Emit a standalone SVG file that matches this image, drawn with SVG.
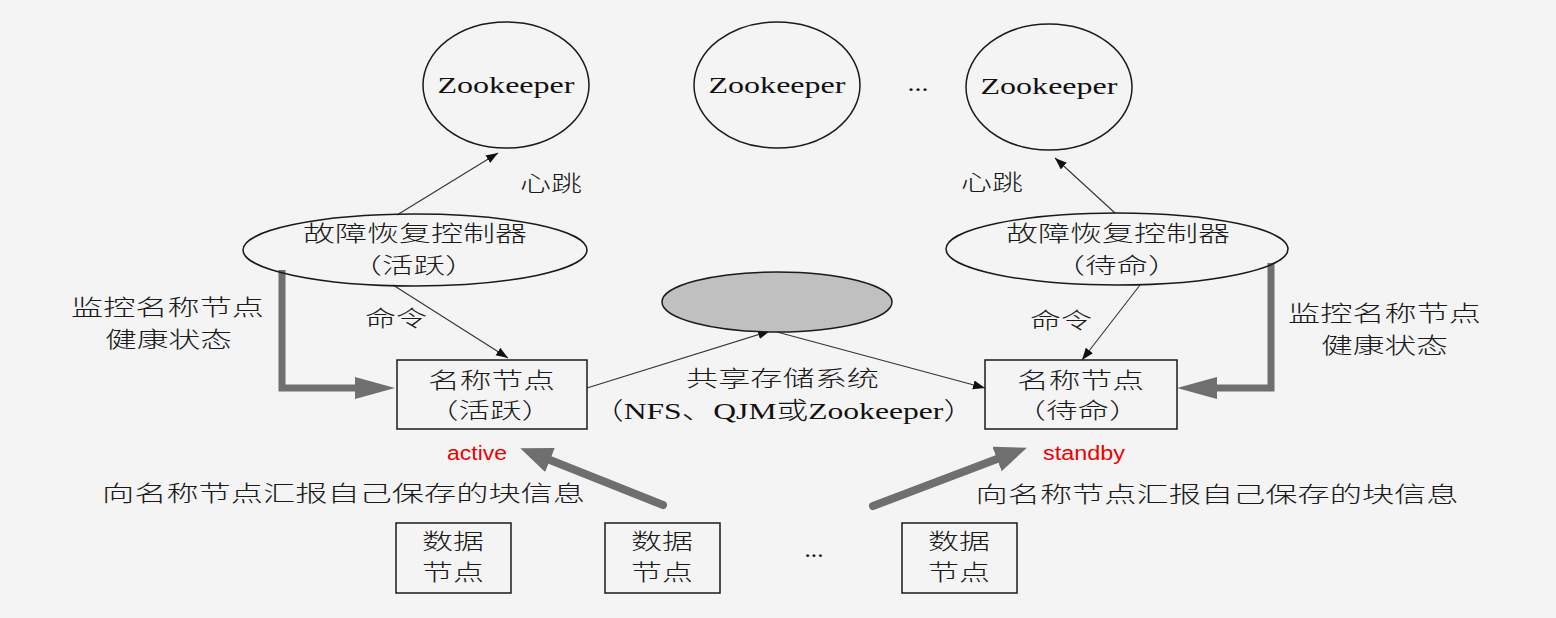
<svg xmlns="http://www.w3.org/2000/svg" width="1556" height="618" viewBox="0 0 1556 618">
<defs>
<style>
.bg{fill:#f4f4f4}
.node{fill:none;stroke:#1a1a1a;stroke-width:1.5}
.box{fill:none;stroke:#1a1a1a;stroke-width:1.5}
.gray{fill:#c0c0c0;stroke:#1a1a1a;stroke-width:1.5}
.thin{fill:none;stroke:#333;stroke-width:1.1}
.thick{fill:none;stroke:#6f6f6f;stroke-width:7}
.thickr{fill:none;stroke:#6f6f6f;stroke-width:8;stroke-linecap:round}
.cjk{font-family:"Noto Sans CJK SC",sans-serif;font-size:22px;font-weight:300;fill:#1a1a1a;text-anchor:middle}
.ser{font-family:"Liberation Serif","Noto Sans CJK SC",serif;font-size:24px;fill:#111;text-anchor:middle}
.lt{font-weight:300}
.red{font-family:"Liberation Sans",sans-serif;font-size:20px;fill:#ee0000;text-anchor:middle}
</style>
<marker id="ah" markerUnits="userSpaceOnUse" markerWidth="13" markerHeight="10" refX="12" refY="4.5" orient="auto"><path d="M0,0 L12,4.5 L0,9 z" fill="#111"/></marker>
<marker id="ahg" markerUnits="userSpaceOnUse" markerWidth="42" markerHeight="24" refX="0" refY="11" orient="auto"><path d="M0,0 L40,11 L0,22 z" fill="#6f6f6f"/></marker>
<marker id="ahd" markerUnits="userSpaceOnUse" markerWidth="34" markerHeight="28" refX="0" refY="13" orient="auto"><path d="M0,0 L32,13 L0,26 z" fill="#6f6f6f"/></marker>
</defs>
<rect class="bg" x="0" y="0" width="1556" height="618"/>

<g id="connectors">
<line class="thin" x1="397" y1="215" x2="498" y2="153" marker-end="url(#ah)"/>
<line class="thin" x1="1115" y1="213" x2="1055" y2="158" marker-end="url(#ah)"/>
<line class="thin" x1="393" y1="285" x2="508" y2="358" marker-end="url(#ah)"/>
<line class="thin" x1="1140" y1="285" x2="1082" y2="360" marker-end="url(#ah)"/>
<line class="thin" x1="587" y1="388" x2="770" y2="331" marker-end="url(#ah)"/>
<line class="thin" x1="777" y1="332" x2="985" y2="388" marker-end="url(#ah)"/>
<polyline class="thick" points="282,270 282,388 355,388" marker-end="url(#ahg)"/>
<polyline class="thick" points="1271,263 1271,388 1217,388" marker-end="url(#ahg)"/>
<line class="thickr" x1="663" y1="505" x2="550" y2="460" marker-end="url(#ahd)"/>
<line class="thickr" x1="873" y1="506" x2="997" y2="459" marker-end="url(#ahd)"/>
</g>

<g id="zk1"><ellipse class="node" cx="506" cy="85" rx="83" ry="63"/><text class="ser" x="506" y="93" textLength="137" lengthAdjust="spacingAndGlyphs">Zookeeper</text></g>
<g id="zk2"><ellipse class="node" cx="777" cy="85" rx="83" ry="63"/><text class="ser" x="777" y="93" textLength="137" lengthAdjust="spacingAndGlyphs">Zookeeper</text></g>
<g id="zk-dots"><text class="ser" x="918" y="91" textLength="21" lengthAdjust="spacingAndGlyphs">...</text></g>
<g id="zk3"><ellipse class="node" cx="1049" cy="87" rx="83" ry="63"/><text class="ser" x="1049" y="94" textLength="137" lengthAdjust="spacingAndGlyphs">Zookeeper</text></g>

<g id="hb-left"><text class="cjk" x="551" y="191" textLength="62" lengthAdjust="spacingAndGlyphs">心跳</text></g>
<g id="hb-right"><text class="cjk" x="992" y="190" textLength="62" lengthAdjust="spacingAndGlyphs">心跳</text></g>

<g id="fc-active"><ellipse class="node" cx="415" cy="250" rx="172" ry="36"/>
<text class="cjk" x="415" y="241" textLength="224" lengthAdjust="spacingAndGlyphs">故障恢复控制器</text>
<text class="cjk" x="413.5" y="273" textLength="126" lengthAdjust="spacingAndGlyphs">（活跃）</text></g>

<g id="fc-standby"><ellipse class="node" cx="1117" cy="249" rx="171" ry="36"/>
<text class="cjk" x="1118" y="241" textLength="224" lengthAdjust="spacingAndGlyphs">故障恢复控制器</text>
<text class="cjk" x="1116.5" y="273" textLength="126" lengthAdjust="spacingAndGlyphs">（待命）</text></g>

<g id="cmd-left"><text class="cjk" x="396" y="326" textLength="62" lengthAdjust="spacingAndGlyphs">命令</text></g>
<g id="cmd-right"><text class="cjk" x="1061" y="328" textLength="62" lengthAdjust="spacingAndGlyphs">命令</text></g>

<g id="mon-left"><text class="cjk" x="167.5" y="315" textLength="193" lengthAdjust="spacingAndGlyphs">监控名称节点</text>
<text class="cjk" x="168.5" y="347" textLength="127" lengthAdjust="spacingAndGlyphs">健康状态</text></g>
<g id="mon-right"><text class="cjk" x="1384.5" y="321" textLength="193" lengthAdjust="spacingAndGlyphs">监控名称节点</text>
<text class="cjk" x="1384.5" y="353" textLength="127" lengthAdjust="spacingAndGlyphs">健康状态</text></g>

<g id="storage"><ellipse class="gray" cx="777" cy="302" rx="115" ry="30"/>
<text class="cjk" x="782.5" y="386" textLength="193" lengthAdjust="spacingAndGlyphs">共享存储系统</text>
<text class="ser" x="783.5" y="419" textLength="383" lengthAdjust="spacingAndGlyphs"><tspan class="lt">（</tspan>NFS<tspan class="lt">、</tspan>QJM<tspan class="lt">或</tspan>Zookeeper<tspan class="lt">）</tspan></text></g>

<g id="nn-active"><rect class="box" x="397" y="360" width="190" height="69"/>
<text class="cjk" x="491.5" y="388" textLength="127" lengthAdjust="spacingAndGlyphs">名称节点</text>
<text class="cjk" x="490" y="418" textLength="126" lengthAdjust="spacingAndGlyphs">（活跃）</text></g>

<g id="nn-standby"><rect class="box" x="985" y="360" width="192" height="69"/>
<text class="cjk" x="1080.5" y="388" textLength="127" lengthAdjust="spacingAndGlyphs">名称节点</text>
<text class="cjk" x="1077.5" y="418" textLength="126" lengthAdjust="spacingAndGlyphs">（待命）</text></g>

<g id="label-active"><text class="red" x="477" y="460" textLength="60" lengthAdjust="spacingAndGlyphs">active</text></g>
<g id="label-standby"><text class="red" x="1084" y="460" textLength="82" lengthAdjust="spacingAndGlyphs">standby</text></g>

<g id="report-left"><text class="cjk" x="343.5" y="501" textLength="483" lengthAdjust="spacingAndGlyphs">向名称节点汇报自己保存的块信息</text></g>
<g id="report-right"><text class="cjk" x="1217" y="502" textLength="483" lengthAdjust="spacingAndGlyphs">向名称节点汇报自己保存的块信息</text></g>

<g id="dn1"><rect class="box" x="396" y="523" width="115" height="70"/>
<text class="cjk" x="453" y="549" textLength="62" lengthAdjust="spacingAndGlyphs">数据</text>
<text class="cjk" x="453" y="580" textLength="62" lengthAdjust="spacingAndGlyphs">节点</text></g>
<g id="dn2"><rect class="box" x="605" y="523" width="115" height="70"/>
<text class="cjk" x="662" y="549" textLength="62" lengthAdjust="spacingAndGlyphs">数据</text>
<text class="cjk" x="662" y="580" textLength="62" lengthAdjust="spacingAndGlyphs">节点</text></g>
<g id="dn-dots"><text class="ser" x="814" y="557" textLength="19" lengthAdjust="spacingAndGlyphs">...</text></g>
<g id="dn3"><rect class="box" x="902" y="523" width="115" height="70"/>
<text class="cjk" x="959" y="549" textLength="62" lengthAdjust="spacingAndGlyphs">数据</text>
<text class="cjk" x="959" y="580" textLength="62" lengthAdjust="spacingAndGlyphs">节点</text></g>
</svg>
